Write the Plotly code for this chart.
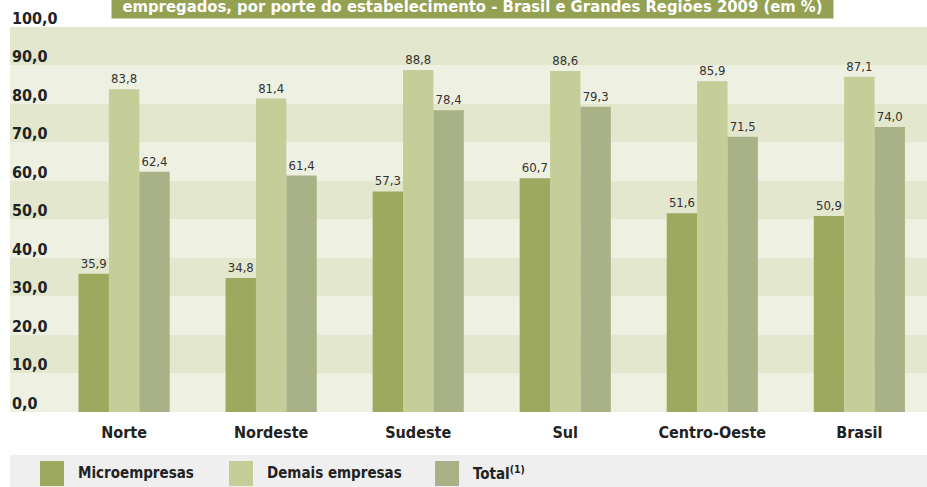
import plotly.graph_objects as go

categories = ["Norte", "Nordeste", "Sudeste", "Sul", "Centro-Oeste", "Brasil"]
micro = [35.9, 34.8, 57.3, 60.7, 51.6, 50.9]
demais = [83.8, 81.4, 88.8, 88.6, 85.9, 87.1]
total = [62.4, 61.4, 78.4, 79.3, 71.5, 74.0]
series_names = ["Microempresas", "Demais empresas", "Total<sup>(1)</sup>"]
series_colors = ["#9DA95F", "#C5CE98", "#A9B286"]
y_ticks = [0, 10, 20, 30, 40, 50, 60, 70, 80, 90, 100]
y_ticktext = ["0,0", "10,0", "20,0", "30,0", "40,0", "50,0", "60,0", "70,0", "80,0", "90,0", "100,0"]
title_text = "empregados, por porte do estabelecimento - Brasil e Grandes Regiões 2009 (em %)"

FONT = "DejaVu Sans Condensed, Liberation Sans Narrow, DejaVu Sans, sans-serif"

def fnt(size, color, weight="normal"):
    return dict(family=FONT, size=size, color=color, weight=weight)

fig = go.Figure()
for name, vals, col in zip(series_names, [micro, demais, total], series_colors):
    fig.add_trace(go.Bar(
        x=categories, y=vals, name=name, marker=dict(color=col, line=dict(width=0)),
        texttemplate="%{y:.1f}", textposition="outside",
        textfont=fnt(13, "#333333"),
        cliponaxis=False, showlegend=False,
    ))

shapes = []
for i in range(10):
    shapes.append(dict(type="rect", xref="paper", yref="y", x0=0, x1=1,
                       y0=i * 10, y1=(i + 1) * 10, layer="below", line=dict(width=0),
                       fillcolor="#EEF0E2" if i % 2 == 0 else "#E3E7CE"))

PT, PB = 27, 412
def py(pix):
    return (PB - pix) / (PB - PT)
def px(pix):
    return (pix - 10) / 917

annotations = []
# y tick labels
for v, t in zip(y_ticks, y_ticktext):
    annotations.append(dict(xref="paper", yref="y", x=px(10), y=v, yshift=9,
                            xanchor="left", yanchor="middle", showarrow=False,
                            text=t, font=fnt(16, "#222222", "bold")))

# legend band
shapes.append(dict(type="rect", xref="paper", yref="paper", x0=0, x1=1,
                   y0=py(487), y1=py(455), line=dict(width=0), fillcolor="#EFEFEF"))
leg_x = [40, 229, 435]
for lx, name, col in zip(leg_x, series_names, series_colors):
    shapes.append(dict(type="rect", xref="paper", yref="paper", x0=px(lx), x1=px(lx + 24),
                       y0=py(486), y1=py(461), line=dict(width=0), fillcolor=col))
    annotations.append(dict(xref="paper", yref="paper", x=px(lx + 36), y=py(473),
                            xanchor="left", yanchor="middle", showarrow=False,
                            text=name, font=fnt(15, "#222222", "bold")))

annotations.append(dict(xref="paper", yref="paper", x=px(472.5), y=py(19),
                        xanchor="center", yanchor="bottom", showarrow=False,
                        width=717, bgcolor="#95A152", borderpad=2,
                        text=title_text, font=fnt(16.5, "#FFFFFF", "bold")))

fig.update_layout(
    width=927, height=487,
    margin=dict(l=10, r=0, t=27, b=75, autoexpand=False),
    paper_bgcolor="#FFFFFF", plot_bgcolor="#FFFFFF",
    barmode="group", bargap=0.38, bargroupgap=0,
    separators=",.",
    shapes=shapes, annotations=annotations,
    xaxis=dict(range=[-0.776, 5.46], showgrid=False, zeroline=False, showline=False,
               ticks="", ticklabelstandoff=9, tickfont=fnt(16, "#222222", "bold")),
    yaxis=dict(range=[0, 100], showticklabels=False,
               showgrid=False, zeroline=False, showline=False, ticks=""),
)

fig.write_html("out.html", config={"displayModeBar": False},
               post_script="document.body.style.margin='0px';document.body.style.overflow='hidden';")
